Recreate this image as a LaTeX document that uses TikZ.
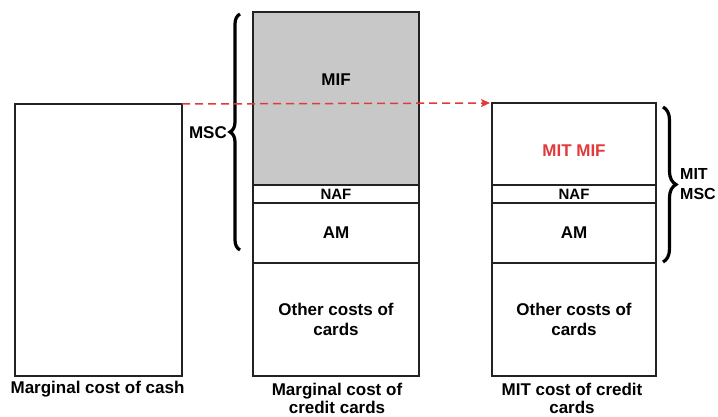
\documentclass[tikz,border=0pt]{standalone}
\usepackage{fontspec}
\setmainfont{Liberation Sans}
\usetikzlibrary{decorations.pathreplacing,arrows.meta}
\definecolor{linec}{HTML}{222222}
\definecolor{mifgray}{HTML}{C8C8C8}
\definecolor{dashred}{HTML}{E03A3A}
\begin{document}
\begin{tikzpicture}[x=1pt,y=-1pt,
  box/.style={draw=linec,line width=1.4pt,inner sep=0pt,outer sep=0pt,
    font=\fontsize{17}{20}\selectfont\bfseries,align=center},
  lbl/.style={inner sep=0pt,font=\fontsize{17}{18}\selectfont\bfseries,align=center,text=black},
  bracestyle/.style={decorate,line width=3.2pt,draw=black},
]
\useasboundingbox (0,0) rectangle (718,417);
% left column
\node[box,minimum width=167pt,minimum height=272pt] (cash) at (98.5,240) {};
% middle column
\node[box,fill=mifgray,minimum width=166pt,minimum height=173pt] (mif) at (336,98.5) {};
\node[box,minimum width=166pt,minimum height=18pt,font=\fontsize{15}{16}\selectfont\bfseries] (naf) at (336,194) {NAF};
\node[box,minimum width=166pt,minimum height=60pt] (am) at (336,233) {AM};
\node[box,minimum width=166pt,minimum height=113pt] (oth) at (336,319.5) {Other costs of\\cards};
% right column
\node[box,minimum width=164pt,minimum height=82pt] (mmif) at (574,144) {};
\node[box,minimum width=164pt,minimum height=18pt,font=\fontsize{15}{16}\selectfont\bfseries] (mnaf) at (574,194) {NAF};
\node[box,minimum width=164pt,minimum height=60pt] (mam) at (574,233) {AM};
\node[box,minimum width=164pt,minimum height=113pt] (moth) at (574,319.5) {Other costs of\\cards};
% texts
\node[lbl] (miftxt) at (336,80) {MIF};
\node[lbl,text=dashred] (mmiftxt) at (574,151) {MIT MIF};
\node[lbl,anchor=east] (msc) at (227,133) {MSC};
\node[lbl,anchor=west,align=left,font=\fontsize{16}{20}\selectfont\bfseries] (mmsc) at (680,184) {MIT\\MSC};
\node[lbl] (cap1) at (97.5,389) {Marginal cost of cash};
\node[lbl] (cap2) at (337,398) {Marginal cost of\\credit cards};
\node[lbl] (cap3) at (572,398) {MIT cost of credit\\cards};
% braces
\coordinate (lb1) at (240,250);
\coordinate (lb2) at (240,14);
\draw[bracestyle,decoration={brace,amplitude=10pt,aspect=0.5}] (lb1) -- (lb2);
\coordinate (rb1) at (663,107);
\coordinate (rb2) at (663,262);
\draw[bracestyle,decoration={brace,amplitude=13pt,aspect=0.5}] (rb1) -- (rb2);
% dashed arrow
\draw[dashred,line width=1.5pt,dash pattern=on 8pt off 5pt,-{Stealth[length=9pt,width=8pt,inset=2pt]}]
  (cash.north east) -- ([xshift=-2pt]mmif.north west);
\end{tikzpicture}
\end{document}
